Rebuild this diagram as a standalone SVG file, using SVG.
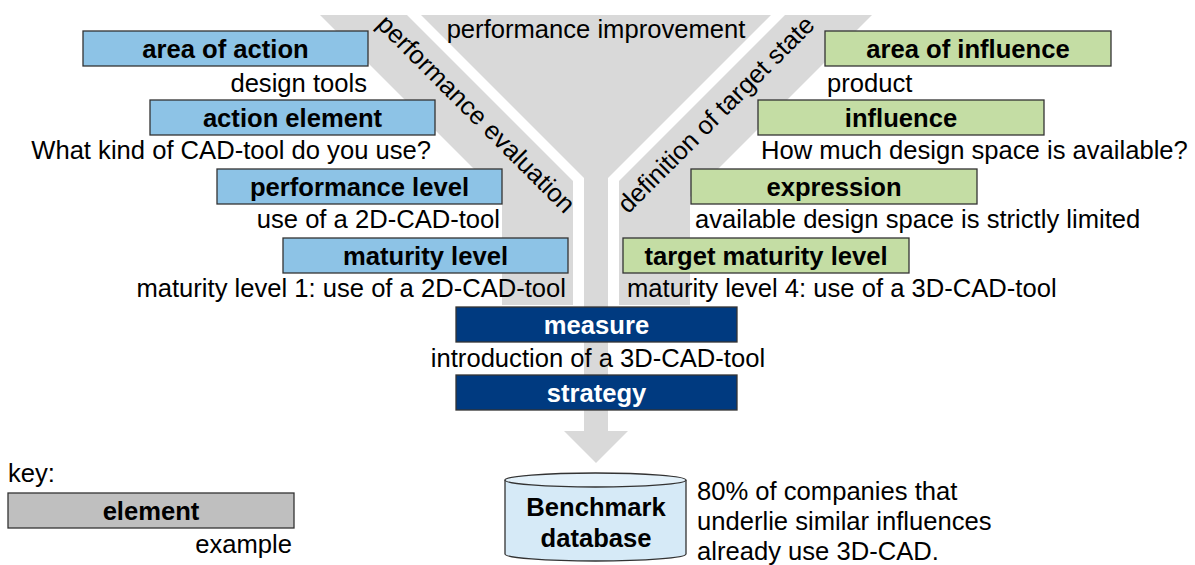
<svg xmlns="http://www.w3.org/2000/svg" width="1195" height="565" viewBox="0 0 1195 565">
<style>
text{font-family:"Liberation Sans",Arial,sans-serif;font-size:25.6px;fill:#000}
.b{font-weight:bold;text-anchor:middle}
.w{fill:#fff}
.r{text-anchor:end}
.m{text-anchor:middle}
.box{stroke:#333;stroke-width:1.3}
.blue{fill:#8DC3E6}
.green{fill:#C4DDA4}
.navy{fill:#003A80}
.grey{fill:#BFBFBF}
.fun{fill:#D9D9D9}
</style>
<rect width="1195" height="565" fill="#fff"/>
<g id="funnel">
<polygon class="fun" points="421,15 771,15 608,178 608,431 628,431 596,463 564,431 584,431 584,178"/>
<polygon class="fun" points="320,15 407,15 573,181 573,305 502,305 502,197"/>
<polygon class="fun" points="872,15 785,15 619,181 619,305 690,305 690,197"/>
<text class="m" x="596" y="38">performance improvement</text>
<text class="m" transform="translate(470,120) rotate(45)">performance evaluation</text>
<text class="m" transform="translate(722,120.5) rotate(-45)">definition of target state</text>
</g>
<g id="area-of-action"><rect class="box blue" x="83" y="31" width="285" height="35"/><text class="b" x="225.5" y="58">area of action</text><text class="r" x="367" y="92">design tools</text></g>
<g id="action-element"><rect class="box blue" x="150" y="100" width="285" height="35"/><text class="b" x="292.5" y="127">action element</text><text class="r" x="431" y="159">What kind of CAD-tool do you use?</text></g>
<g id="performance-level"><rect class="box blue" x="217" y="169" width="285" height="35"/><text class="b" x="359.5" y="196">performance level</text><text class="r" x="500" y="228">use of a 2D-CAD-tool</text></g>
<g id="maturity-level"><rect class="box blue" x="283" y="238" width="285" height="35"/><text class="b" x="425.5" y="265">maturity level</text><text class="r" x="566" y="297">maturity level 1: use of a 2D-CAD-tool</text></g>
<g id="area-of-influence"><rect class="box green" x="825" y="31" width="286" height="35"/><text class="b" x="968" y="58">area of influence</text><text x="827" y="92">product</text></g>
<g id="influence"><rect class="box green" x="758" y="100" width="286" height="35"/><text class="b" x="901" y="127">influence</text><text x="761" y="159">How much design space is available?</text></g>
<g id="expression"><rect class="box green" x="691" y="169" width="286" height="35"/><text class="b" x="834" y="196">expression</text><text x="695" y="228">available design space is strictly limited</text></g>
<g id="target-maturity-level"><rect class="box green" x="623" y="238" width="286" height="35"/><text class="b" x="766" y="265">target maturity level</text><text x="627" y="297">maturity level 4: use of a 3D-CAD-tool</text></g>
<g id="measure"><rect class="box navy" x="456" y="307" width="281" height="35"/><text class="b w" x="596.5" y="334">measure</text><text class="m" x="598" y="367">introduction of a 3D-CAD-tool</text></g>
<g id="strategy"><rect class="box navy" x="456" y="375" width="281" height="35"/><text class="b w" x="596.5" y="402">strategy</text></g>
<g id="connectors"></g>
<g id="database">
<path d="M505,480 V554 A90.5,7 0 0 0 686,554 V480" fill="#D6EAF7" stroke="#333" stroke-width="1.3"/>
<ellipse cx="595.5" cy="480" rx="90.5" ry="7" fill="#E3F1FA" stroke="#333" stroke-width="1.3"/>
<text class="b" x="596" y="516">Benchmark</text>
<text class="b" x="596" y="547">database</text>
<text x="697" y="500">80% of companies that</text>
<text x="697" y="530">underlie similar influences</text>
<text x="697" y="560">already use 3D-CAD.</text>
</g>
<g id="key">
<text x="8" y="482">key:</text>
<rect class="box grey" x="8" y="493" width="286" height="35"/>
<text class="b" x="151" y="520">element</text>
<text class="r" x="292" y="553">example</text>
</g>
</svg>
